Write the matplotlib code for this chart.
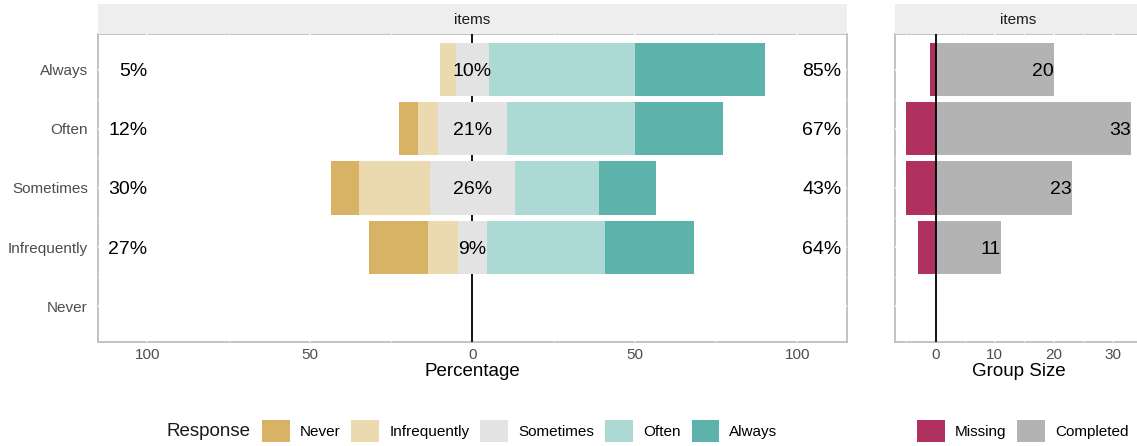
import numpy as np
import matplotlib.pyplot as plt
from matplotlib.patches import Patch, Rectangle

plt.rcParams['font.family'] = ['Liberation Sans', 'DejaVu Sans']

# Data
items = ['Never', 'Infrequently', 'Sometimes', 'Often', 'Always']   # bottom to top
responses = ['Never', 'Infrequently', 'Sometimes', 'Often', 'Always']
resp_colors = ['#D9B365', '#EBD9AF', '#E3E3E3', '#ADD9D5', '#5DB3AB']

# counts of each response per item (same order as items)
cnt_never = [0, 2, 2, 2, 0]
cnt_infreq = [0, 1, 5, 2, 1]
cnt_some = [0, 1, 6, 7, 2]
cnt_often = [0, 4, 6, 13, 9]
cnt_always = [0, 3, 4, 9, 8]

missing = [0, 3, 5, 5, 1]
completed = [0, 11, 23, 33, 20]

counts = np.array([cnt_never, cnt_infreq, cnt_some, cnt_often, cnt_always], dtype=float).T
totals = counts.sum(axis=1)
pct = np.divide(counts, totals[:, None], out=np.zeros_like(counts), where=totals[:, None] > 0) * 100

W, H = 1137, 446
fig = plt.figure(figsize=(W / 100, H / 100), dpi=100)
axL = fig.add_axes([97.7 / W, (H - 342) / H, (847 - 97.7) / W, 308 / H])
axR = fig.add_axes([895 / W, (H - 342) / H, (1142 - 895) / W, 308 / H])

y = np.arange(1, len(items) + 1)
bh = 0.9

# diverging stacked bars
left_start = -pct[:, 2] / 2
axL.barh(y, -pct[:, 1], left=left_start, height=bh, color=resp_colors[1], zorder=2)
axL.barh(y, -pct[:, 0], left=left_start - pct[:, 1], height=bh, color=resp_colors[0], zorder=2)
axL.barh(y, pct[:, 2], left=left_start, height=bh, color=resp_colors[2], zorder=2)
axL.barh(y, pct[:, 3], left=pct[:, 2] / 2, height=bh, color=resp_colors[3], zorder=2)
axL.barh(y, pct[:, 4], left=pct[:, 2] / 2 + pct[:, 3], height=bh, color=resp_colors[4], zorder=2)
axL.axvline(0, color='black', lw=1.3, zorder=1)

low = pct[:, 0] + pct[:, 1]
mid = pct[:, 2]
high = pct[:, 3] + pct[:, 4]
for yi, t, lo, mi, hi in zip(y, totals, low, mid, high):
    if t == 0:
        continue
    axL.text(-100, yi, f'{round(lo)}%', ha='right', va='center_baseline', fontsize=14, color='black', zorder=4)
    axL.text(0, yi, f'{round(mi)}%', ha='center', va='center_baseline', fontsize=14, color='black', zorder=4)
    axL.text(101.5, yi, f'{round(hi)}%', ha='left', va='center_baseline', fontsize=14, color='black', zorder=4)

axL.set_xlim(-115.3, 115.3)
axL.set_xticks([-100, -50, 0, 50, 100])
axL.set_xticks([-75, -25, 25, 75], minor=True)
axL.set_xticklabels(['100', '50', '0', '50', '100'])
axL.set_xlabel('Percentage', fontsize=13.5, labelpad=1)

# group size panel
axR.barh(y, [-m for m in missing], height=bh, color='#B0305F', zorder=2)
axR.barh(y, completed, height=bh, color='#B3B3B3', zorder=2)
axR.axvline(0, color='black', lw=1.3, zorder=3)
for yi, c in zip(y, completed):
    if c == 0:
        continue
    axR.text(c, yi, str(c), ha='right', va='center_baseline', fontsize=14, color='black', zorder=4)
axR.set_xlim(-6.9, 34.9)
axR.set_xticks([0, 10, 20, 30])
axR.set_xticks([-5, 5, 15, 25], minor=True)
axR.set_xlabel('Group Size', fontsize=13.5, labelpad=1)

for ax in (axL, axR):
    ax.set_ylim(0.4, 5.6)
    ax.set_yticks(y)
    ax.set_yticks(y[:-1] + 0.5, minor=True)
    ax.set_axisbelow(True)
    ax.grid(True, which='major', color='white', lw=1.1)
    ax.grid(True, which='minor', color='white', lw=0.6)
    for sp in ax.spines.values():
        sp.set_color('#BEBEBE')
        sp.set_linewidth(1.3)
        sp.set_zorder(0.3)
    ax.tick_params(which='both', length=0, labelsize=11, labelcolor='#4D4D4D')
    ax.tick_params(axis='x', pad=4)
    ax.add_patch(Rectangle((0, 1.0), 1, 30 / 308, transform=ax.transAxes,
                           facecolor='#EEEEEE', edgecolor='none', clip_on=False))
    ax.text(0.5, 1 + 15 / 308, 'items', transform=ax.transAxes, ha='center', va='center_baseline',
            fontsize=11, color='#1A1A1A')

axL.set_yticklabels(items)
axL.tick_params(axis='y', pad=7)
axR.set_yticklabels([])

# legends
fig.text(167 / W, (H - 431) / H, 'Response', ha='left', va='center', fontsize=13.5, color='#1A1A1A')
h1 = [Patch(facecolor=c, edgecolor='none', label=r) for c, r in zip(resp_colors, responses)]
fig.legend(handles=h1, loc='center left', bbox_to_anchor=(261.7 / W, (H - 431) / H), ncol=5,
           frameon=False, fontsize=11, handlelength=1.83, handleheight=1.83,
           handletextpad=0.65, columnspacing=0.72, borderpad=0, borderaxespad=0)
h2 = [Patch(facecolor='#B0305F', edgecolor='none', label='Missing'),
      Patch(facecolor='#B3B3B3', edgecolor='none', label='Completed')]
fig.legend(handles=h2, loc='center left', bbox_to_anchor=(917 / W, (H - 431) / H), ncol=2,
           frameon=False, fontsize=11, handlelength=1.83, handleheight=1.83,
           handletextpad=0.65, columnspacing=0.72, borderpad=0, borderaxespad=0)

fig.savefig('out.png', dpi=100)
